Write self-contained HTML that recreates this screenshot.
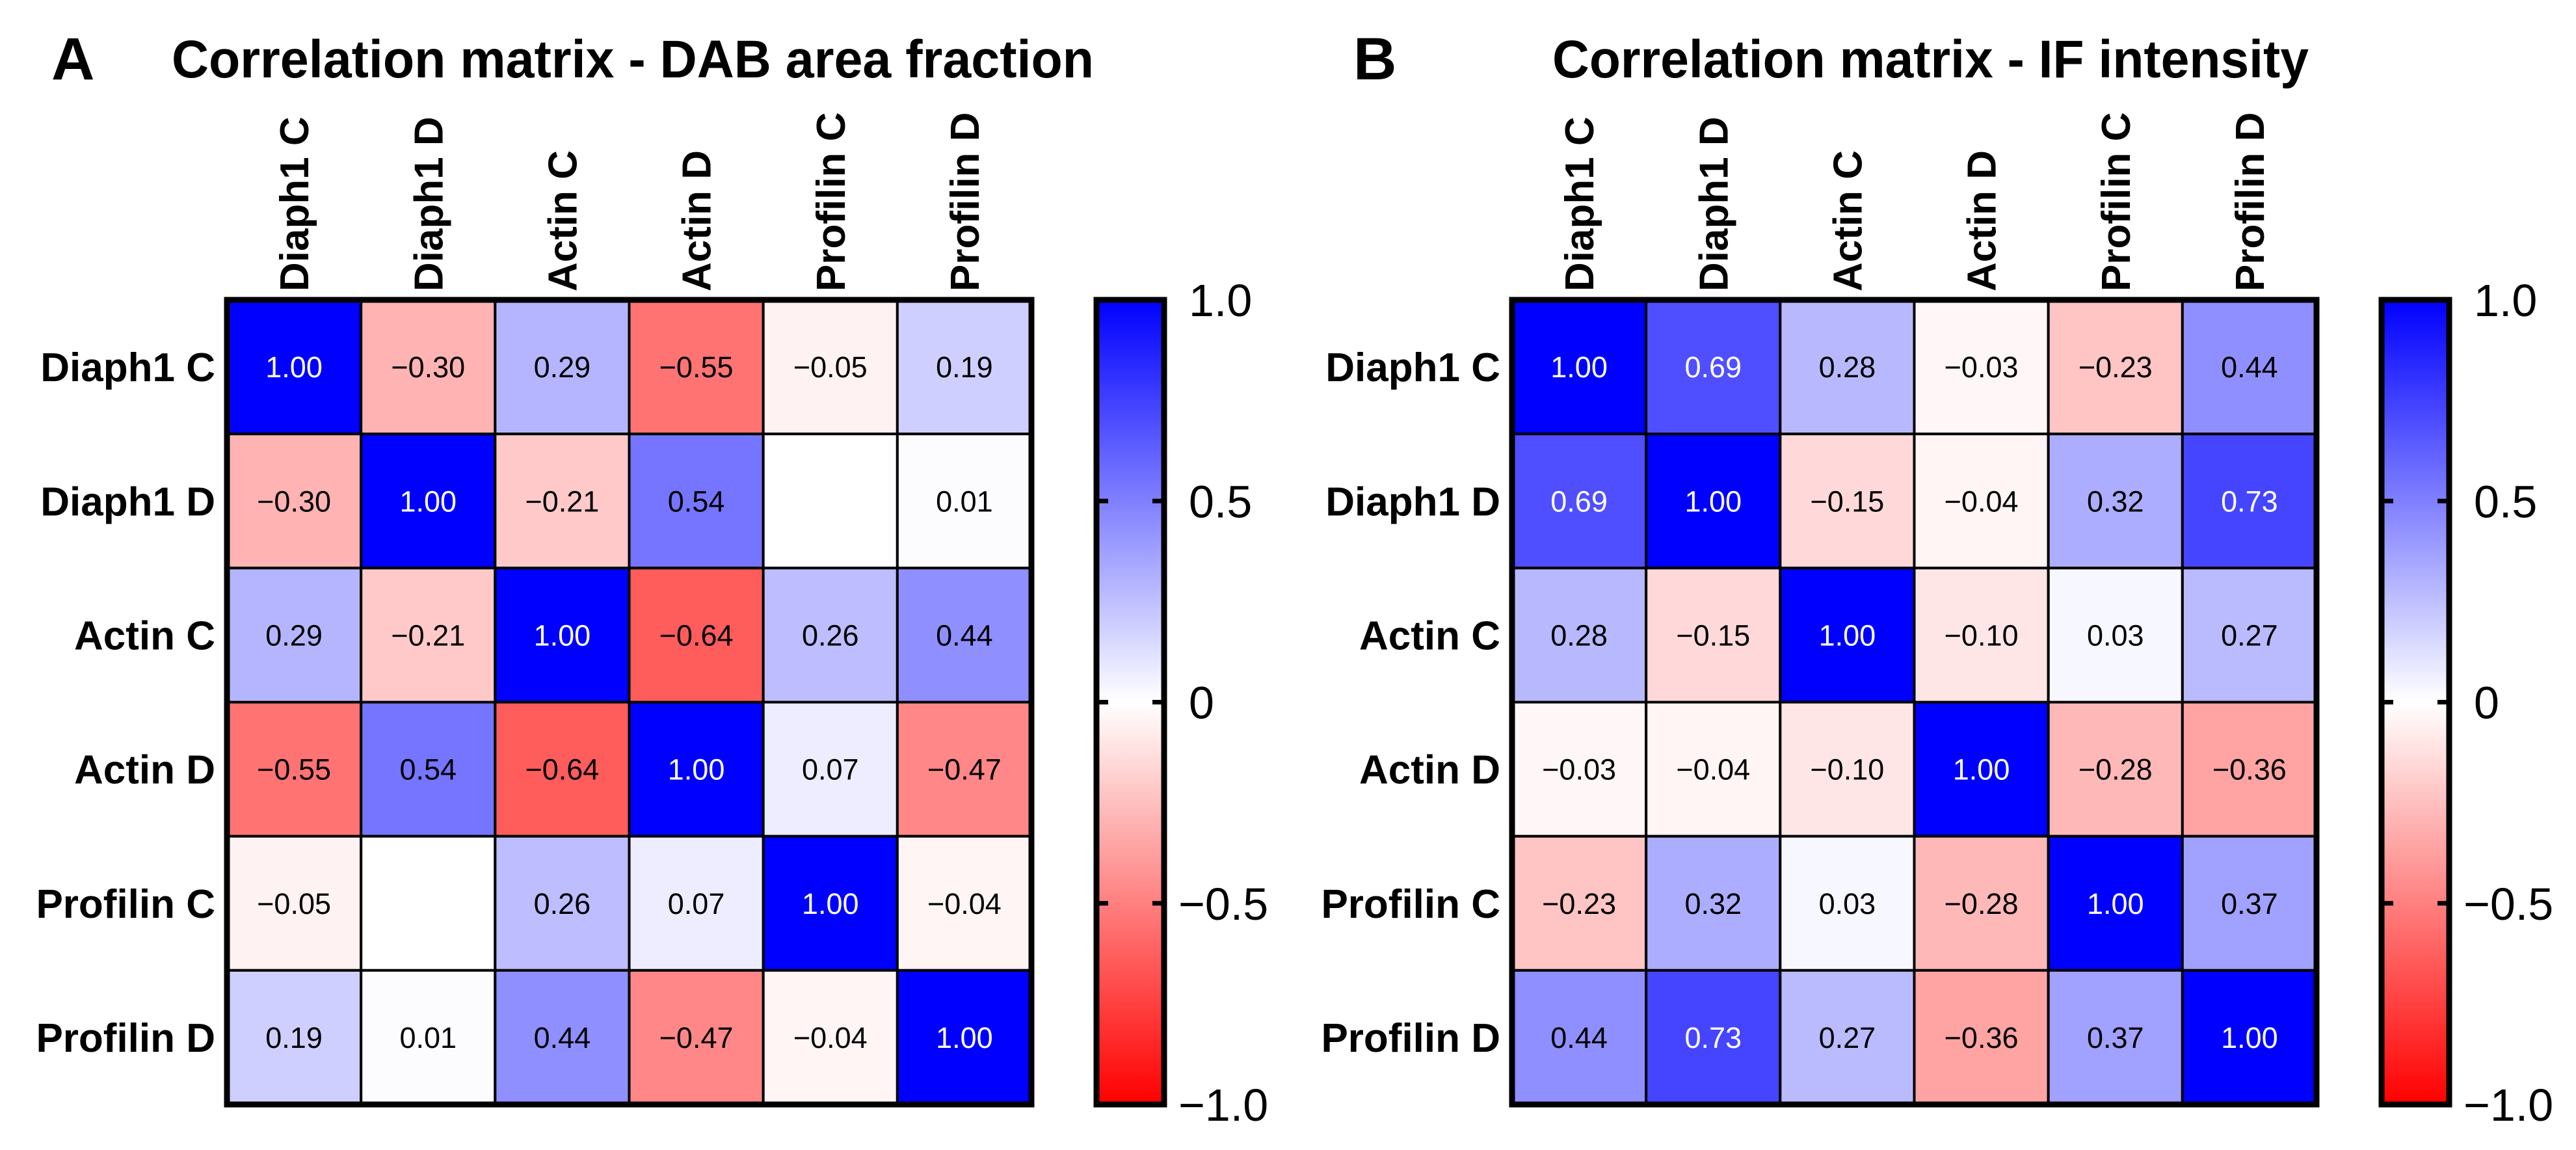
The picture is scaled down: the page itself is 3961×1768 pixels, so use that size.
<!DOCTYPE html>
<html><head><meta charset="utf-8"><style>
html,body{margin:0;padding:0;background:#fff;}
svg{display:block;font-family:"Liberation Sans",Arial,sans-serif;}
</style></head>
<body>
<svg id="fig" width="3961" height="1768" viewBox="0 0 3961 1768" xmlns="http://www.w3.org/2000/svg">
<defs>
<linearGradient id="cbar" x1="0" y1="0" x2="0" y2="1">
<stop offset="0" stop-color="#0000ff"/><stop offset="0.5" stop-color="#ffffff"/><stop offset="1" stop-color="#ff0000"/>
</linearGradient>
</defs>
<g>
<text x="79" y="122" font-size="92" font-weight="bold">A</text>
<text x="264" y="119" font-size="82" font-weight="bold" textLength="1418" lengthAdjust="spacingAndGlyphs">Correlation matrix - DAB area fraction</text>
<g id="gA"></g>
</g>
<g>
<text x="2081" y="122" font-size="92" font-weight="bold">B</text>
<text x="2387" y="119" font-size="82" font-weight="bold" textLength="1163" lengthAdjust="spacingAndGlyphs">Correlation matrix - IF intensity</text>
<g id="gB"></g>
</g>
</svg>
<script>
const labels = ["Diaph1 C","Diaph1 D","Actin C","Actin D","Profilin C","Profilin D"];
const valuesA = [
 [1.00,-0.30,0.29,-0.55,-0.05,0.19],
 [-0.30,1.00,-0.21,0.54,null,0.01],
 [0.29,-0.21,1.00,-0.64,0.26,0.44],
 [-0.55,0.54,-0.64,1.00,0.07,-0.47],
 [-0.05,null,0.26,0.07,1.00,-0.04],
 [0.19,0.01,0.44,-0.47,-0.04,1.00]
];
const valuesB = [
 [1.00,0.69,0.28,-0.03,-0.23,0.44],
 [0.69,1.00,-0.15,-0.04,0.32,0.73],
 [0.28,-0.15,1.00,-0.10,0.03,0.27],
 [-0.03,-0.04,-0.10,1.00,-0.28,-0.36],
 [-0.23,0.32,0.03,-0.28,1.00,0.37],
 [0.44,0.73,0.27,-0.36,0.37,1.00]
];
const ticks = [1.0,0.5,0,-0.5,-1.0];
const tickLabels = ["1.0","0.5","0","\u22120.5","\u22121.0"];

const NS="http://www.w3.org/2000/svg";
function mk(tag,attrs,parent){const e=document.createElementNS(NS,tag);for(const k in attrs)e.setAttribute(k,attrs[k]);parent.appendChild(e);return e;}
function color(v){
  if(v===null) return "#ffffff";
  if(v>=0){const c=Math.round(255*(1-v));return `rgb(${c},${c},255)`;}
  const c=Math.round(255*(1+v));return `rgb(255,${c},${c})`;
}
function fmt(v){const s=Math.abs(v).toFixed(2);return v<0?"\u2212"+s:s;}

function draw(g,vals,gx,cbx){
  const gy=461, size=1237, n=labels.length, cw=size/n;
  const xs=i=>gx+i*cw, ys=i=>gy+i*cw;
  for(let r=0;r<n;r++){
    for(let c=0;c<n;c++){
      const v=vals[r][c];
      const rect=mk("rect",{x:xs(c),y:ys(r),width:cw,height:cw,fill:color(v),stroke:"#000","stroke-width":4},g);
      
      
      if(v!==null){
        const t=mk("text",{x:xs(c)+cw/2,y:ys(r)+cw/2+16,"text-anchor":"middle","font-size":45,fill:(v>0.6?"#fff":"#000")},g);
        t.textContent=fmt(v);
        
        
      }
    }
  }
  const border=mk("rect",{x:gx,y:gy,width:size,height:size,fill:"none",stroke:"#000","stroke-width":9},g);
  
  
  for(let i=0;i<n;i++){
    const rl=mk("text",{x:gx-18,y:ys(i)+cw/2+22,"text-anchor":"end","font-size":62,"font-weight":"bold"},g);
    rl.textContent=labels[i];
    
    
    const cx=xs(i)+cw/2+22;
    const cl=mk("text",{x:0,y:0,transform:`translate(${cx},448) rotate(-90)`,"font-size":62,"font-weight":"bold"},g);
    cl.textContent=labels[i];
    
    
  }
  const cbw=104;
  const cb=mk("rect",{x:cbx,y:gy,width:cbw,height:size,fill:"url(#cbar)",stroke:"#000","stroke-width":9},g);
  
  
  const cy=v=>gy+(1-v)/2*size;
  for(let i=0;i<ticks.length;i++){
    const y=cy(ticks[i]);
    if(i>0&&i<ticks.length-1){
      const t1=mk("line",{x1:cbx,y1:y,x2:cbx+18,y2:y,stroke:"#000","stroke-width":7},g);
      
      
      const t2=mk("line",{x1:cbx+cbw-18,y1:y,x2:cbx+cbw,y2:y,stroke:"#000","stroke-width":7},g);
      
      
    }
    const lx=cbx+cbw+(ticks[i]<0?22:38);
    const tl=mk("text",{x:lx,y:y+25,"font-size":70},g);
    tl.textContent=tickLabels[i];
    
    
  }
}
draw(document.getElementById("gA"),valuesA,349,1686);
draw(document.getElementById("gB"),valuesB,2325,3662);
</script>
</body></html>
